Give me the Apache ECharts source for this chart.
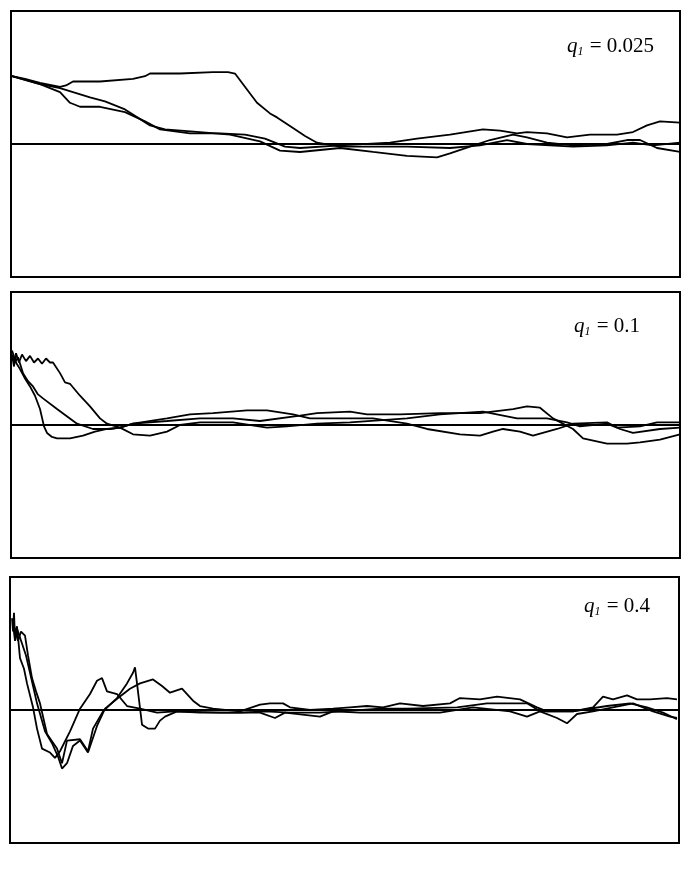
<!DOCTYPE html>
<html>
<head>
<meta charset="utf-8">
<script src="https://cdn.jsdelivr.net/npm/echarts@6/dist/echarts.min.js"></script>
<style>
  html, body { margin: 0; padding: 0; background: #fff; }
  #chart { width: 695px; height: 876px; }
</style>
</head>
<body>
<div id="chart"></div>
<script>
// panel labels
const labels = ['0.025', '0.1', '0.4'];

// panel 1, q1 = 0.025
const p1a = [[1,0.51],[14,0.49],[29,0.46],[49,0.43],[55,0.44],[62,0.47],[89,0.47],[122,0.49],[134,0.51],[139,0.53],[169,0.53],[202,0.54],[217,0.54],[224,0.53],[236,0.41],[246,0.31],[259,0.23],[266,0.20],[282,0.12],[294,0.06],[306,0.01],
  [329,-0.02],[396,-0.02],[439,-0.03],[469,-0.01],[496,0.03],[516,0.0],[562,-0.02],[596,-0.01],[622,0.01],[642,-0.01],[669,0.01]];
const p1b = [[1,0.51],[29,0.45],[49,0.39],[59,0.31],[69,0.28],[89,0.28],[114,0.24],[134,0.17],[149,0.11],[179,0.08],[209,0.08],[234,0.07],[254,0.04],[274,-0.02],[289,-0.03],
  [329,-0.01],[379,0.01],[406,0.04],[439,0.07],[472,0.11],[489,0.10],[506,0.08],[516,0.09],[536,0.08],[556,0.05],[579,0.07],[606,0.07],[622,0.09],[636,0.14],[649,0.17],[669,0.16]];
const p1c = [[1,0.51],[29,0.45],[49,0.42],[79,0.35],[94,0.32],[114,0.26],[139,0.14],[154,0.11],[189,0.09],[219,0.07],[249,0.02],[269,-0.05],[289,-0.06],
  [329,-0.03],[362,-0.06],[396,-0.09],[426,-0.10],[439,-0.07],[459,-0.02],[479,0.03],[502,0.07],[516,0.05],[536,0.01],[562,-0.01],[596,0.0],[616,0.03],[629,0.03],[646,-0.03],[669,-0.06]];

// panel 2, q1 = 0.1
const p2a = [[1,0.53],[3,0.44],[5,0.54],[8,0.47],[11,0.53],[15,0.48],[19,0.52],[23,0.47],[27,0.50],[31,0.46],[35,0.50],[39,0.47],[42,0.47],[49,0.39],[54,0.32],[59,0.31],[69,0.22],[79,0.14],[89,0.05],[96,0.01],[109,-0.02],
  [122,0.01],[156,0.03],[189,0.05],[222,0.05],[249,0.03],[289,0.07],[306,0.09],[339,0.10],[356,0.08],[389,0.08],[429,0.09],[469,0.09],[502,0.12],[516,0.14],[529,0.13],[542,0.05],[562,-0.03],[572,-0.10],[596,-0.14],[616,-0.14],[629,-0.13],[649,-0.11],[669,-0.07]];
const p2b = [[1,0.52],[4,0.47],[7,0.51],[12,0.39],[17,0.33],[22,0.29],[27,0.23],[32,0.20],[46,0.12],[66,0.01],[82,-0.03],[99,-0.03],[109,-0.02],
  [122,0.01],[156,0.05],[179,0.08],[202,0.09],[236,0.11],[256,0.11],[282,0.08],[299,0.05],[322,0.05],[339,0.05],[362,0.05],[396,0.01],[416,-0.03],[449,-0.07],[469,-0.08],[482,-0.05],[492,-0.03],[509,-0.05],[522,-0.08],[546,-0.03],[562,0.01],[596,0.02],[609,-0.03],[622,-0.06],[649,-0.03],[669,-0.02]];
const p2c = [[1,0.56],[5,0.47],[9,0.42],[14,0.35],[19,0.29],[24,0.22],[29,0.12],[33,-0.01],[36,-0.06],[41,-0.09],[46,-0.10],[59,-0.10],[72,-0.08],[84,-0.05],[96,-0.03],[109,-0.02],
  [122,-0.07],[139,-0.08],[156,-0.05],[169,0.0],[189,0.02],[222,0.02],[256,-0.02],[276,-0.01],[306,0.01],[339,0.02],[396,0.05],[429,0.08],[472,0.10],[506,0.05],[536,0.05],[556,0.02],[569,-0.01],[596,0.01],[606,-0.02],[629,-0.01],[646,0.02],[669,0.02]];

// panel 3, q1 = 0.4
const p3a = [[2,0.69],[3,0.59],[4,0.73],[5,0.54],[7,0.63],[10,0.39],[14,0.31],[17,0.20],[23,0.02],[27,-0.14],[32,-0.29],[40,-0.32],[45,-0.36],[50,-0.31],[60,-0.16],[70,0.01],[80,0.12],[87,0.22],[92,0.24],[97,0.14],[107,0.12],[117,0.03],[130,0.01],[147,-0.02],[165,-0.01],
  [190,-0.02],[230,-0.02],[255,-0.01],[280,-0.02],[310,-0.02],[330,-0.01],[370,0.01],[397,0.01],[447,0.02],[477,0.05],[490,0.05],[517,0.05],[530,-0.01],[563,-0.01],[597,0.03],[620,0.05],[637,0.02],[653,-0.02],[667,-0.07]];
const p3b = [[3,0.65],[5,0.52],[7,0.61],[12,0.50],[16,0.41],[20,0.28],[27,0.05],[35,-0.16],[42,-0.25],[48,-0.35],[52,-0.44],[57,-0.40],[63,-0.27],[70,-0.23],[78,-0.32],[87,-0.12],[95,0.01],[108,0.09],[120,0.16],[130,0.20],[143,0.23],[152,0.18],[160,0.13],[172,0.16],[183,0.07],[190,0.03],[203,0.01],
  [230,-0.01],[250,0.04],[260,0.05],[273,0.05],[280,0.02],[300,0.0],[323,0.01],[340,0.02],[357,0.03],[373,0.02],[390,0.05],[413,0.03],[440,0.05],[450,0.09],[470,0.08],[487,0.10],[510,0.08],[527,0.02],[537,-0.01],[563,-0.01],[583,0.02],[593,0.10],[603,0.08],[617,0.11],[627,0.08],[640,0.08],[657,0.09],[667,0.08]];
const p3c = [[4,0.63],[8,0.52],[11,0.59],[15,0.56],[18,0.41],[22,0.24],[26,0.14],[30,0.05],[37,-0.18],[47,-0.29],[52,-0.40],[57,-0.23],[70,-0.22],[78,-0.31],[83,-0.14],[93,-0.01],[107,0.09],[117,0.20],[123,0.28],[125,0.32],[127,0.20],[132,-0.11],[138,-0.14],[145,-0.14],[150,-0.08],[155,-0.05],[167,-0.01],
  [210,-0.02],[250,-0.02],[265,-0.06],[275,-0.02],[310,-0.05],[323,-0.01],[350,-0.02],[383,-0.02],[430,-0.02],[463,0.02],[500,-0.01],[517,-0.05],[530,-0.01],[547,-0.06],[557,-0.10],[567,-0.03],[583,-0.01],[623,0.05],[643,-0.01],[660,-0.05],[667,-0.06]];

const panels = [[p1a, p1b, p1c], [p2a, p2b, p2c], [p3a, p3b, p3c]];
const gridTops = [11, 292, 577];
const gridLefts = [11, 11, 10];
const labelPos = [[567, 50], [574, 330], [584, 610]];

const chart = echarts.init(document.getElementById('chart'));

const grids = [], xAxes = [], yAxes = [], series = [], texts = [];
panels.forEach((curves, i) => {
  grids.push({
    left: gridLefts[i], top: gridTops[i], width: 669, height: 266,
    show: true, borderColor: '#000', borderWidth: 2, backgroundColor: 'transparent'
  });
  xAxes.push({
    type: 'value', gridIndex: i, min: 0, max: 669,
    axisLine: { show: true, onZero: true, lineStyle: { color: '#000', width: 2 } },
    axisTick: { show: false }, axisLabel: { show: false }, splitLine: { show: false }
  });
  yAxes.push({
    type: 'value', gridIndex: i, min: -1, max: 1,
    axisLine: { show: false }, axisTick: { show: false },
    axisLabel: { show: false }, splitLine: { show: false }
  });
  curves.forEach(d => {
    series.push({
      type: 'line', xAxisIndex: i, yAxisIndex: i, data: d,
      symbol: 'none', silent: true, animation: false,
      lineStyle: { color: '#000', width: 1.8 }
    });
  });
  texts.push({
    type: 'text', left: labelPos[i][0], top: labelPos[i][1] - 14,
    style: {
      text: '{q|q}{s|1}{n| = ' + labels[i] + '}',
      fill: '#000',
      rich: {
        q: { fontFamily: 'Liberation Serif', fontStyle: 'italic', fontSize: 21 },
        s: { fontFamily: 'Liberation Serif', fontStyle: 'italic', fontSize: 12, padding: [11, 1, 0, 0] },
        n: { fontFamily: 'Liberation Serif', fontSize: 21 }
      }
    }
  });
});

chart.setOption({
  animation: false,
  grid: grids,
  xAxis: xAxes,
  yAxis: yAxes,
  series: series,
  graphic: texts
});
</script>
</body>
</html>
